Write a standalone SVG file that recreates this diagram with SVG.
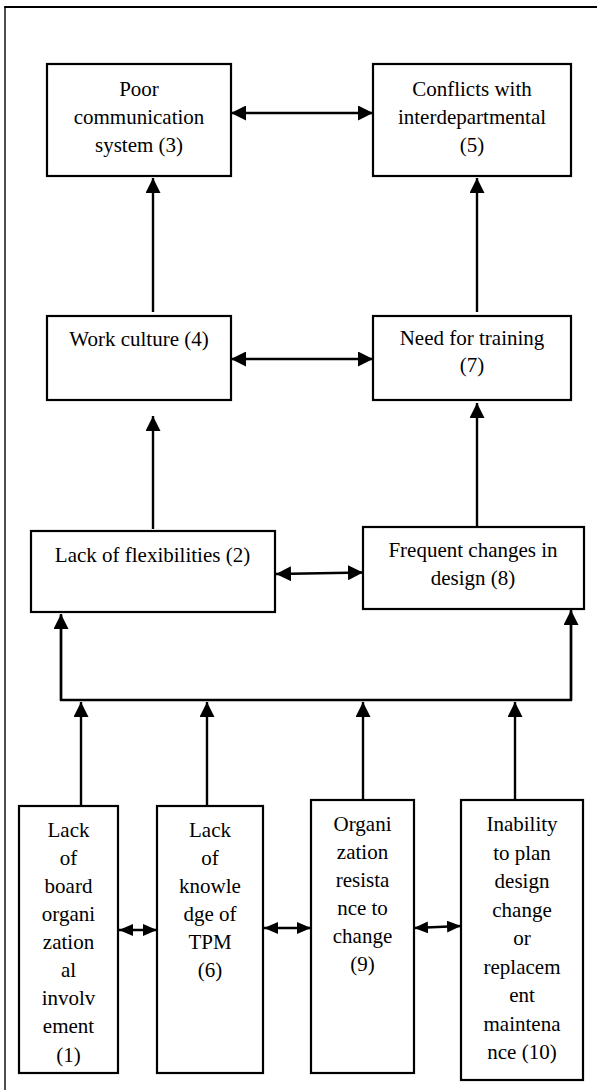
<svg xmlns="http://www.w3.org/2000/svg" width="597" height="1090" viewBox="0 0 597 1090">
<style>
.box{fill:#fff;stroke:#000;stroke-width:2.2}
.t{font-family:'Times New Roman','Liberation Serif','DejaVu Serif',serif;font-size:21px;fill:#000;text-anchor:middle}
.c{stroke:#000;stroke-width:2.4;fill:none}
.a{marker-end:url(#ah)}
.d{marker-start:url(#ah);marker-end:url(#ah)}
.s{marker-start:url(#ahs);marker-end:url(#ahs)}
</style>
<defs>
<marker id="ah" markerUnits="userSpaceOnUse" markerWidth="15" markerHeight="15" refX="15" refY="7.5" orient="auto-start-reverse" viewBox="0 0 15 15">
<path d="M0,0 L15,7.5 L0,15 z" fill="#000"/>
</marker>
<marker id="ahs" markerUnits="userSpaceOnUse" markerWidth="14" markerHeight="12" refX="14" refY="6" orient="auto-start-reverse" viewBox="0 0 14 12">
<path d="M0,0 L14,6 L0,12 z" fill="#000"/>
</marker>
</defs>
<g id="frame">
<line x1="5" y1="7" x2="5" y2="1090" stroke="#222" stroke-width="1.6"/>
<line x1="4.2" y1="7" x2="597" y2="7" stroke="#000" stroke-width="2"/>
</g>
<g id="connectors">
<line class="c d" x1="231" y1="113" x2="373" y2="113"/>
<line class="c d" x1="231" y1="359" x2="373" y2="359"/>
<line class="c a" x1="153" y1="312" x2="153" y2="178"/>
<line class="c a" x1="477" y1="312" x2="477" y2="178"/>
<line class="c a" x1="153" y1="529" x2="153" y2="416"/>
<line class="c a" x1="477" y1="526" x2="477" y2="403"/>
<line class="c d" x1="276" y1="574" x2="363" y2="572.5"/>
<polyline class="c" points="61,615 61,700 571,700 571,611"/>
<line class="c a" x1="61" y1="700" x2="61" y2="614"/>
<line class="c a" x1="571" y1="700" x2="571" y2="610"/>
<line class="c a" x1="81" y1="806" x2="81" y2="702"/>
<line class="c a" x1="207" y1="806" x2="207" y2="702"/>
<line class="c a" x1="363" y1="800" x2="363" y2="702"/>
<line class="c a" x1="515" y1="800" x2="515" y2="702"/>
<line class="c s" x1="119" y1="930" x2="157" y2="930"/>
<line class="c s" x1="264" y1="928" x2="311" y2="928"/>
<line class="c s" x1="414" y1="928" x2="461" y2="926"/>
</g>
<g id="n3">
<rect class="box" x="47" y="64" width="184" height="112"/>
<text class="t" x="139" y="96" font-family="Liberation Serif, serif">Poor</text>
<text class="t" x="139" y="124" font-family="Liberation Serif, serif">communication</text>
<text class="t" x="139" y="152" font-family="Liberation Serif, serif">system (3)</text>
</g>
<g id="n5">
<rect class="box" x="373" y="64" width="198" height="112"/>
<text class="t" x="472" y="96">Conflicts with</text>
<text class="t" x="472" y="124">interdepartmental</text>
<text class="t" x="472" y="152">(5)</text>
</g>
<g id="n4">
<rect class="box" x="47" y="316" width="184" height="84"/>
<text class="t" x="139" y="346">Work culture (4)</text>
</g>
<g id="n7">
<rect class="box" x="373" y="316" width="198" height="84"/>
<text class="t" x="472" y="345">Need for training</text>
<text class="t" x="472" y="372">(7)</text>
</g>
<g id="n2">
<rect class="box" x="31" y="531" width="244" height="81"/>
<text class="t" x="152.5" y="562">Lack of flexibilities (2)</text>
</g>
<g id="n8">
<rect class="box" x="363" y="527" width="221" height="82"/>
<text class="t" x="473" y="557">Frequent changes in</text>
<text class="t" x="473" y="585">design (8)</text>
</g>
<g id="n1">
<rect class="box" x="19" y="806" width="99" height="267"/>
<text class="t" x="68.5"><tspan x="68.5" y="837">Lack</tspan><tspan x="68.5" y="865">of</tspan><tspan x="68.5" y="893">board</tspan><tspan x="68.5" y="921">organi</tspan><tspan x="68.5" y="949">zation</tspan><tspan x="68.5" y="977">al</tspan><tspan x="68.5" y="1005">involv</tspan><tspan x="68.5" y="1033">ement</tspan><tspan x="68.5" y="1062">(1)</tspan></text>
</g>
<g id="n6">
<rect class="box" x="157" y="806" width="106" height="267"/>
<text class="t" x="210"><tspan x="210" y="837">Lack</tspan><tspan x="210" y="865">of</tspan><tspan x="210" y="893">knowle</tspan><tspan x="210" y="921">dge of</tspan><tspan x="210" y="949">TPM</tspan><tspan x="210" y="977">(6)</tspan></text>
</g>
<g id="n9">
<rect class="box" x="311" y="800" width="103" height="273"/>
<text class="t" x="362.5"><tspan x="362.5" y="831">Organi</tspan><tspan x="362.5" y="859">zation</tspan><tspan x="362.5" y="887">resista</tspan><tspan x="362.5" y="915">nce to</tspan><tspan x="362.5" y="943">change</tspan><tspan x="362.5" y="971">(9)</tspan></text>
</g>
<g id="n10">
<rect class="box" x="461" y="800" width="122" height="280"/>
<text class="t" x="522"><tspan x="522" y="831">Inability</tspan><tspan x="522" y="859.5">to plan</tspan><tspan x="522" y="888">design</tspan><tspan x="522" y="916.5">change</tspan><tspan x="522" y="945">or</tspan><tspan x="522" y="973.5">replacem</tspan><tspan x="522" y="1002">ent</tspan><tspan x="522" y="1030.5">maintena</tspan><tspan x="522" y="1059">nce (10)</tspan></text>
</g>
</svg>
